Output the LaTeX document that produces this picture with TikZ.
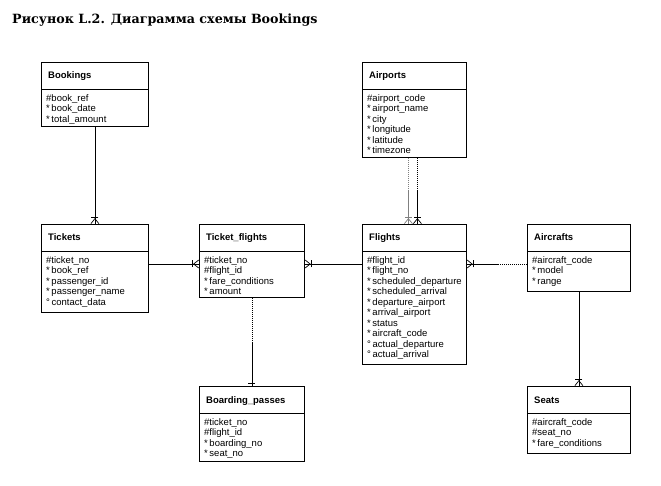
\documentclass[tikz,border=0pt]{standalone}
\usepackage{fontspec}
\setmainfont{Liberation Sans}
\newfontfamily\capfont{DejaVu Serif}
\usetikzlibrary{arrows.meta,calc,shadows}

\tikzset{
	entity/.style={draw, line width=0.8pt, fill=white, anchor=north west, inner sep=0pt,
		drop shadow={shadow xshift=1pt, shadow yshift=-1pt, fill=black!45, opacity=1}},
	ename/.style={font=\fontsize{9.5}{10.5}\selectfont\bfseries, anchor=base west, inner sep=0pt},
	eattr/.style={font=\fontsize{9.5}{10.5}\selectfont, anchor=north west, align=left, inner sep=0pt},
	hline/.style={line width=0.8pt},
	rel/.style={line width=0.7pt},
	opt/.style={line width=0.7pt, dash pattern=on 1pt off 1pt},
	many/.style={postaction={draw, -{Bar[width=7pt]Straight Barb[reversed,length=5pt,width=8pt]}}},
}

\begin{document}
\begin{tikzpicture}[x=1pt, y=-1pt]
	\fill[white] (0,0) rectangle (661,486);
	\useasboundingbox (0,0) rectangle (661,486);

	\node[anchor=base west, inner sep=0pt, font=\capfont\bfseries\fontsize{12.7}{15}\selectfont] (caption) at (12,23.5) {Рисунок L.2. Диаграмма схемы Bookings};

	% entities
	\node[entity, minimum width=107pt, minimum height=64pt] (bookings) at (41,62) {};
	\node[entity, minimum width=104pt, minimum height=95pt] (airports) at (362,62) {};
	\node[entity, minimum width=107pt, minimum height=88pt] (tickets) at (41,224) {};
	\node[entity, minimum width=105pt, minimum height=73pt] (tflights) at (199,224) {};
	\node[entity, minimum width=104pt, minimum height=140pt] (flights) at (362,224) {};
	\node[entity, minimum width=103pt, minimum height=67pt] (aircrafts) at (527,224) {};
	\node[entity, minimum width=105pt, minimum height=75pt] (bpasses) at (199,386) {};
	\node[entity, minimum width=103pt, minimum height=67pt] (seats) at (527,386) {};

	\draw[hline] ($(bookings.north west)+(0,27)$) -- ($(bookings.north east)+(0,27)$);
	\draw[hline] ($(airports.north west)+(0,27)$) -- ($(airports.north east)+(0,27)$);
	\draw[hline] ($(tickets.north west)+(0,27)$) -- ($(tickets.north east)+(0,27)$);
	\draw[hline] ($(tflights.north west)+(0,27)$) -- ($(tflights.north east)+(0,27)$);
	\draw[hline] ($(flights.north west)+(0,27)$) -- ($(flights.north east)+(0,27)$);
	\draw[hline] ($(aircrafts.north west)+(0,27)$) -- ($(aircrafts.north east)+(0,27)$);
	\draw[hline] ($(bpasses.north west)+(0,27)$) -- ($(bpasses.north east)+(0,27)$);
	\draw[hline] ($(seats.north west)+(0,27)$) -- ($(seats.north east)+(0,27)$);

	\node[ename] (bookings-n) at ($(bookings.north west)+(7,17)$) {Bookings};
	\node[eattr] (bookings-a) at ($(bookings.north west)+(5,32)$) {\#book\_ref\\*\,book\_date\\*\,total\_amount};

	\node[ename] (airports-n) at ($(airports.north west)+(7,17)$) {Airports};
	\node[eattr] (airports-a) at ($(airports.north west)+(5,32)$) {\#airport\_code\\*\,airport\_name\\*\,city\\*\,longitude\\*\,latitude\\*\,timezone};

	\node[ename] (tickets-n) at ($(tickets.north west)+(7,17)$) {Tickets};
	\node[eattr] (tickets-a) at ($(tickets.north west)+(5,32)$) {\#ticket\_no\\*\,book\_ref\\*\,passenger\_id\\*\,passenger\_name\\°\,contact\_data};

	\node[ename] (tflights-n) at ($(tflights.north west)+(7,17)$) {Ticket\_flights};
	\node[eattr] (tflights-a) at ($(tflights.north west)+(5,32)$) {\#ticket\_no\\\#flight\_id\\*\,fare\_conditions\\*\,amount};

	\node[ename] (flights-n) at ($(flights.north west)+(7,17)$) {Flights};
	\node[eattr] (flights-a) at ($(flights.north west)+(5,32)$) {\#flight\_id\\*\,flight\_no\\*\,scheduled\_departure\\*\,scheduled\_arrival\\*\,departure\_airport\\*\,arrival\_airport\\*\,status\\*\,aircraft\_code\\°\,actual\_departure\\°\,actual\_arrival};

	\node[ename] (aircrafts-n) at ($(aircrafts.north west)+(7,17)$) {Aircrafts};
	\node[eattr] (aircrafts-a) at ($(aircrafts.north west)+(5,32)$) {\#aircraft\_code\\*\,model\\*\,range};

	\node[ename] (bpasses-n) at ($(bpasses.north west)+(7,17)$) {Boarding\_passes};
	\node[eattr] (bpasses-a) at ($(bpasses.north west)+(5,32)$) {\#ticket\_no\\\#flight\_id\\*\,boarding\_no\\*\,seat\_no};

	\node[ename] (seats-n) at ($(seats.north west)+(7,17)$) {Seats};
	\node[eattr] (seats-a) at ($(seats.north west)+(5,32)$) {\#aircraft\_code\\\#seat\_no\\*\,fare\_conditions};

	% relationships
	\draw[rel, many] (bookings.south) -- (tickets.north);
	\draw[rel, many] ($(tickets.north east)+(0,40)$) -- ($(tflights.north west)+(0,40)$);
	\draw[rel, many] ($(flights.north west)+(0,40)$) -- ($(tflights.north east)+(0,40)$);

	\coordinate (fl-e) at ($(flights.north east)+(0,40)$);
	\coordinate (ac-w) at ($(aircrafts.north west)+(0,40)$);
	\draw[opt] (ac-w) -- ($(ac-w)!0.5!(fl-e)$) coordinate (ac-m);
	\draw[rel, many] (ac-m) -- (fl-e);

	\coordinate (ap-s1) at ($(airports.south)+(-6,0)$);
	\coordinate (fl-n1) at ($(flights.north)+(-6,0)$);
	\draw[opt, black!50] (ap-s1) -- ($(ap-s1)!0.5!(fl-n1)$) coordinate (ap-m1);
	\draw[rel, black!50, many] (ap-m1) -- (fl-n1);
	\coordinate (ap-s2) at ($(airports.south)+(3,0)$);
	\coordinate (fl-n2) at ($(flights.north)+(3,0)$);
	\draw[opt] (ap-s2) -- ($(ap-s2)!0.5!(fl-n2)$) coordinate (ap-m2);
	\draw[rel, many] (ap-m2) -- (fl-n2);

	\draw[opt] (tflights.south) -- ($(tflights.south)!0.5!(bpasses.north)$) coordinate (tb-m);
	\draw[rel] (tb-m) -- (bpasses.north);
	\draw[rel] ($(bpasses.north)+(-3.5,-3)$) -- ++(7,0);

	\draw[rel, many] (aircrafts.south) -- (seats.north);
\end{tikzpicture}
\end{document}
